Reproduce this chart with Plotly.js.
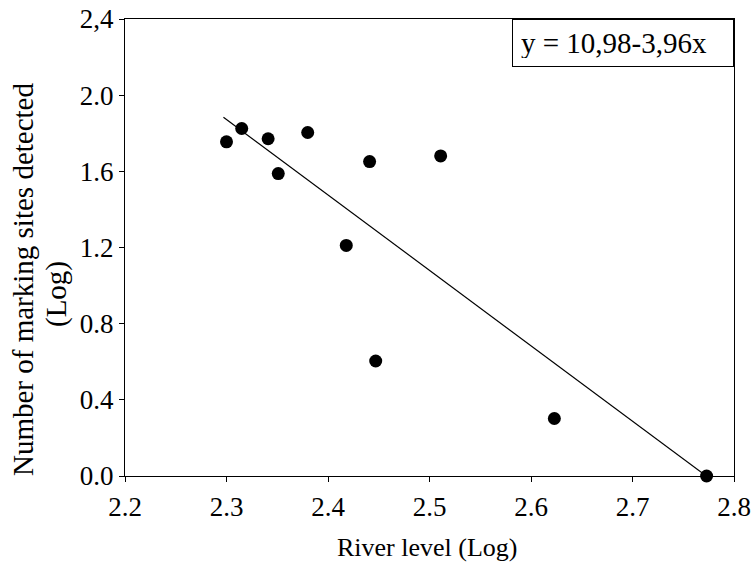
<!DOCTYPE html>
<html>
<head>
<meta charset="utf-8">
<script src="https://cdn.plot.ly/plotly-3.0.1.min.js"></script>
<style>html,body{margin:0;padding:0;background:#fff;}#chart{width:756px;height:562px;}</style>
</head>
<body>
<div id="chart"></div>
<script>
// Data
const riverLevel = [2.300, 2.315, 2.341, 2.351, 2.380, 2.418, 2.441, 2.447, 2.511, 2.623, 2.773];
const markingSites = [1.755, 1.825, 1.771, 1.588, 1.804, 1.211, 1.651, 0.604, 1.681, 0.302, 0.0];
const fitIntercept = 10.98;
const fitSlope = -3.96;
const fitXRange = [2.297, 2.773];
const xTickVals = [2.2, 2.3, 2.4, 2.5, 2.6, 2.7, 2.8];
const xTickText = ["2.2", "2.3", "2.4", "2.5", "2.6", "2.7", "2.8"];
const yTickVals = [0, 0.4, 0.8, 1.2, 1.6, 2.0, 2.4];
const yTickText = ["0.0", "0.4", "0.8", "1.2", "1.6", "2.0", "2,4"];
const equationText = "y = 10,98-3,96x";
const xTitle = "River level (Log)";
const yTitleLines = ["Number of marking sites detected", "(Log)"];

const fitY = fitXRange.map(x => fitIntercept + fitSlope * x);
const serif = "Liberation Serif";

const traces = [
  {
    x: fitXRange, y: fitY, mode: "lines", type: "scatter",
    line: {color: "#000", width: 1.2}, hoverinfo: "skip", cliponaxis: false
  },
  {
    x: riverLevel, y: markingSites, mode: "markers", type: "scatter",
    marker: {color: "#000", size: 13}, cliponaxis: false
  }
];

const layout = {
  width: 756, height: 562,
  margin: {l: 125, r: 22, t: 19, b: 86},
  paper_bgcolor: "#fff", plot_bgcolor: "#fff",
  showlegend: false,
  font: {family: serif, color: "#000"},
  xaxis: {
    range: [2.2, 2.8], tickvals: xTickVals, ticktext: xTickText,
    ticks: "outside", ticklen: 5, tickcolor: "#000", tickwidth: 1,
    ticklabelstandoff: 2,
    showline: true, linecolor: "#000", linewidth: 1, mirror: true,
    showgrid: false, zeroline: false,
    tickfont: {family: serif, size: 27, color: "#000"}
  },
  yaxis: {
    range: [0, 2.4], tickvals: yTickVals, ticktext: yTickText,
    ticks: "outside", ticklen: 5, tickcolor: "#000", tickwidth: 1,
    showline: true, linecolor: "#000", linewidth: 1, mirror: true,
    showgrid: false, zeroline: false,
    tickfont: {family: serif, size: 27, color: "#000"}
  },
  annotations: [
    {
      xref: "paper", yref: "paper", x: 1, y: 1, xanchor: "right", yanchor: "top",
      text: equationText, showarrow: false, align: "left",
      font: {family: serif, size: 29, color: "#000"},
      bordercolor: "#000", borderwidth: 1, borderpad: 8, bgcolor: "#fff",
      width: 204, height: 30
    },
    {
      xref: "paper", yref: "paper", x: 0.4959, y: -0.1575, xanchor: "center", yanchor: "middle",
      text: xTitle, showarrow: false,
      font: {family: serif, size: 26, color: "#000"}
    },
    {
      xref: "paper", yref: "paper", x: (23 - 125) / 609, y: (476 - 280) / 457,
      xanchor: "center", yanchor: "middle", textangle: -90,
      text: yTitleLines[0], showarrow: false,
      font: {family: serif, size: 29, color: "#000"}
    },
    {
      xref: "paper", yref: "paper", x: (56 - 125) / 609, y: (476 - 294) / 457,
      xanchor: "center", yanchor: "middle", textangle: -90,
      text: yTitleLines[1], showarrow: false,
      font: {family: serif, size: 29, color: "#000"}
    }
  ]
};

Plotly.newPlot("chart", traces, layout, {displayModeBar: false, staticPlot: true});
</script>
</body>
</html>
